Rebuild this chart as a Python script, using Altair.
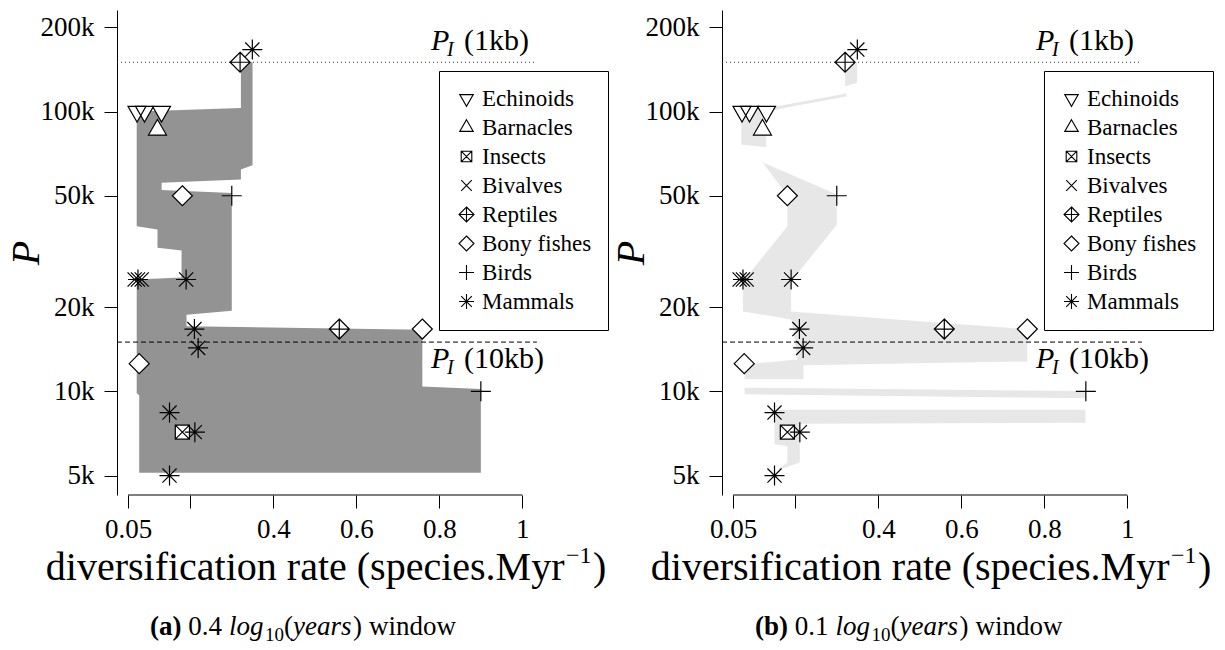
import altair as alt
import pandas as pd

FONT = "Liberation Serif"

# ---------------- data ----------------
groups = ["Echinoids", "Barnacles", "Insects", "Bivalves", "Reptiles",
          "Bony fishes", "Birds", "Mammals"]
group_paths = [
    "M-0.9,-0.52L0.9,-0.52L0,1.04Z",
    "M0,-1.04L0.9,0.52L-0.9,0.52Z",
    "M-0.707,-0.707L0.707,-0.707L0.707,0.707L-0.707,0.707ZM-0.707,-0.707L0.707,0.707M-0.707,0.707L0.707,-0.707",
    "M-0.707,-0.707L0.707,0.707M-0.707,0.707L0.707,-0.707",
    "M0,-1L1,0L0,1L-1,0ZM0,-1L0,1M-1,0L1,0",
    "M0,-1L1,0L0,1L-1,0Z",
    "M-1,0L1,0M0,-1L0,1",
    "M-1,0L1,0M0,-1L0,1M-0.707,-0.707L0.707,0.707M-0.707,0.707L0.707,-0.707",
]

pt_group = (["Echinoids"] * 3 + ["Barnacles"] + ["Insects"] + ["Bivalves"] * 2
            + ["Reptiles"] * 2 + ["Bony fishes"] * 3 + ["Birds"] * 2 + ["Mammals"] * 8)
pt_rate = [0.0717, 0.0898, 0.1307, 0.121, 0.181, 0.066, 0.083, 0.32, 0.559,
           0.181, 0.759, 0.077, 0.30, 0.90,
           0.3495, 0.074, 0.19, 0.21, 0.219, 0.15, 0.211, 0.15]
pt_P = [100000, 100000, 100000, 86000, 7150, 25100, 25100, 150000, 16700,
        50000, 16700, 12560, 50000, 10000,
        166500, 25100, 25100, 16700, 14300, 8400, 7150, 5000]

# panel (a): 0.4 window band (min / max rate against P)
a_P = [150000, 103000, 100000, 64300, 62100, 57200, 55700, 52400, 51200, 38900,
       37900, 32600, 31900, 25500, 25100, 19400, 18800, 17100, 16600, 10400,
       10200, 9840, 9680, 5120]
a_lo = [0.322, 0.322, 0.071, 0.071, 0.071, 0.071, 0.071, 0.071, 0.071, 0.071,
        0.121, 0.121, 0.179, 0.179, 0.071, 0.071, 0.071, 0.071, 0.071, 0.071,
        0.071, 0.071, 0.077, 0.077]
a_hi = [0.35, 0.35, 0.35, 0.35, 0.322, 0.322, 0.131, 0.131, 0.30, 0.30,
        0.30, 0.30, 0.30, 0.30, 0.30, 0.30, 0.191, 0.191, 0.759, 0.759,
        0.90, 0.90, 0.90, 0.90]
a_seg = [1] * len(a_P)

# panel (b): 0.1 window band, in separate pieces
b_seg = [1] * 3 + [2] * 7 + [3] * 14 + [4] * 4 + [5] * 7
b_P = [150000, 126600, 123100,
       116000, 113100, 103300, 101200, 100000, 76200, 74600,
       65900, 50500, 49800, 39500, 38900, 24700, 19310, 18080, 16660, 13010, 12790, 12490, 12390, 11040,
       10310, 10020, 9760, 9440,
       8590, 7730, 7660, 6470, 6360, 5565, 5265]
b_lo = [0.32, 0.32, 0.32,
        0.323, 0.284, 0.140, 0.070, 0.070, 0.070, 0.130,
        0.121, 0.179, 0.181, 0.181, 0.181, 0.074, 0.074, 0.19, 0.195, 0.205, 0.154, 0.078, 0.078, 0.078,
        0.078, 0.078, 0.078, 0.899,
        0.15, 0.15, 0.15, 0.15, 0.181, 0.181, 0.159]
b_hi = [0.349, 0.349, 0.32,
        0.323, 0.323, 0.179, 0.152, 0.130, 0.130, 0.130,
        0.121, 0.30, 0.30, 0.30, 0.297, 0.19, 0.19, 0.4425, 0.759, 0.759, 0.759, 0.355, 0.22, 0.22,
        0.078, 0.899, 0.899, 0.899,
        0.899, 0.899, 0.211, 0.211, 0.211, 0.211, 0.164]

x_ticks = [0.05, 0.2, 0.4, 0.6, 0.8, 1.0]
x_tick_labels = ["0.05", "", "0.4", "0.6", "0.8", "1"]
y_ticks = [5000, 10000, 20000, 50000, 100000, 200000]
y_tick_labels = ["5k", "10k", "20k", "50k", "100k", "200k"]

P_I_1kb = 150000
P_I_10kb = 15000

# ---------------- layout constants ----------------
W, H = 423, 485
X_DOM = [0.0235, 1.0425]
P_DOM = [4262, 230600]


def label_expr(vals, labs):
    e = "''"
    for v, l in reversed(list(zip(vals, labs))):
        e = f"abs(datum.value - {v}) < 1e-9 ? '{l}' : ({e})"
    return e


def txt(s, x, y, size, style="normal", weight="normal", align="left"):
    return alt.Chart(pd.DataFrame({"t": [s]})).mark_text(
        align=align, baseline="alphabetic", font=FONT, fontSize=size,
        fontStyle=style, fontWeight=weight, color="black"
    ).encode(text="t:N", x=alt.value(x), y=alt.value(y))


def dtxt(s, xd, yd, dx, dy, size, style="normal"):
    return alt.Chart(pd.DataFrame({"t": [s]})).mark_text(
        align="left", baseline="alphabetic", font=FONT, fontSize=size,
        fontStyle=style, color="black", dx=dx, dy=dy
    ).encode(text="t:N", x=alt.datum(xd), y=alt.datum(yd))


def panel(P, lo, hi, seg, fill, letter, window):
    xs = alt.Scale(domain=X_DOM, nice=False, zero=False)
    ys = alt.Scale(type="log", domain=P_DOM, nice=False)
    xaxis = alt.Axis(values=x_ticks, labelExpr=label_expr(x_ticks, x_tick_labels),
                     domain=False, grid=False, ticks=True, tickSize=13,
                     tickColor="black", tickWidth=1, labelFont=FONT, labelFontSize=27,
                     labelColor="black", labelPadding=29, labelBaseline="alphabetic",
                     title=None, labelFlush=False, labelOverlap=False)
    yaxis = alt.Axis(values=y_ticks, labelExpr=label_expr(y_ticks, y_tick_labels),
                     domain=True, domainColor="black", domainWidth=1, grid=False,
                     ticks=True, tickSize=13, tickColor="black", tickWidth=1,
                     labelFont=FONT, labelFontSize=27, labelColor="black",
                     labelPadding=10, labelFlush=False, labelOverlap=False,
                     title="P", titleFont=FONT, titleFontSize=40,
                     titleFontStyle="italic", titleFontWeight="normal",
                     titleColor="black", titleX=-79, titleBaseline="alphabetic",
                     titleAngle=270)
    band_df = pd.DataFrame({"P": P, "lo": lo, "hi": hi, "seg": seg})
    band = alt.Chart(band_df).mark_area(orient="horizontal", color=fill, opacity=1,
                                        strokeWidth=0).encode(
        x=alt.X("lo:Q", scale=xs, axis=xaxis),
        x2="hi:Q",
        y=alt.Y("P:Q", scale=ys, axis=yaxis),
        detail="seg:N",
    )
    dotted = alt.Chart(pd.DataFrame({"P": [P_I_1kb]})).mark_rule(
        strokeDash=[1, 3], color="#333333", strokeWidth=1).encode(
        y="P:Q", x=alt.datum(X_DOM[0]), x2=alt.datum(1.033))
    dashed = alt.Chart(pd.DataFrame({"P": [P_I_10kb]})).mark_rule(
        strokeDash=[5, 3], color="black", strokeWidth=1).encode(
        y="P:Q", x=alt.datum(X_DOM[0]), x2=alt.datum(1.035))
    xline = alt.Chart(pd.DataFrame({"a": [0.05], "b": [1.0]})).mark_rule(
        color="black", strokeWidth=1).encode(x="a:Q", x2="b:Q", y=alt.value(H))
    pts_df = pd.DataFrame({"group": pt_group, "rate": pt_rate, "P": pt_P})
    # white interiors under the open symbols
    fills = [
        alt.Chart(pts_df).transform_filter(alt.datum.group == g).mark_point(
            shape=p, filled=True, color="white", size=400, opacity=1).encode(
            x="rate:Q", y="P:Q")
        for g, p in zip(groups, group_paths)
    ]
    pts = alt.Chart(pts_df).mark_point(
        filled=False, color="black", strokeWidth=1.2, size=400, opacity=1).encode(
        x="rate:Q", y="P:Q",
        shape=alt.Shape("group:N", scale=alt.Scale(domain=groups, range=group_paths),
                        legend=alt.Legend(
                            orient="none", legendX=322, legendY=61, title=None,
                            labelFont=FONT, labelFontSize=23, labelColor="black",
                            symbolSize=225, symbolStrokeColor="black",
                            symbolStrokeWidth=1.1,
                            symbolOpacity=1, strokeColor="black", fillColor="white",
                            padding=16, rowPadding=5.0, labelOffset=4,
                            cornerRadius=0)),
    )
    sh = 1.5 if letter == "b" else 0
    texts = [
        dtxt("P", 0.78, P_I_1kb, 0, -12, 30, "italic"),
        dtxt("I", 0.78, P_I_1kb, 16, -6, 20, "italic"),
        dtxt("(1kb)", 0.78, P_I_1kb, 33, -12, 30),
        dtxt("P", 0.78, P_I_10kb, 0, 26, 30, "italic"),
        dtxt("I", 0.78, P_I_10kb, 16, 32, 20, "italic"),
        dtxt("(10kb)", 0.78, P_I_10kb, 33, 26, 30),
        # x axis title
        txt("diversification rate (species.Myr", 447.5, 570, 40, align="right"),
        txt("\u22121", 449, 553, 24),
        txt(")", 476, 570, 40),
        # caption
        txt(f"({letter})", 33, 625, 27, weight="bold"),
        txt(window, 71.3 + sh, 625, 27),
        txt("log", 112 + sh, 625, 27, style="italic"),
        txt("10", 148 + sh, 631, 19),
        txt("(", 167 + sh, 625, 27),
        txt("years", 176 + sh, 625, 27, style="italic"),
        txt(")", 236 + sh, 625, 27),
        txt("window", 252 + sh, 625, 27),
    ]
    return alt.layer(band, dotted, dashed, xline, *fills, pts, *texts).properties(
        width=W, height=H)


pa = panel(a_P, a_lo, a_hi, a_seg, "#939393", "a", "0.4")
pb = panel(b_P, b_lo, b_hi, b_seg, "#e7e7e7", "b", "0.1")

chart = alt.hconcat(pa, pb, spacing=182, bounds="flush").resolve_scale(
    shape="independent").resolve_legend(shape="independent").configure_view(
    stroke=None).properties(padding={"left": 6, "top": 10, "right": 0, "bottom": 0},
                            background="white")

chart.save("out.html", embed_options={"renderer": "svg", "actions": False})
